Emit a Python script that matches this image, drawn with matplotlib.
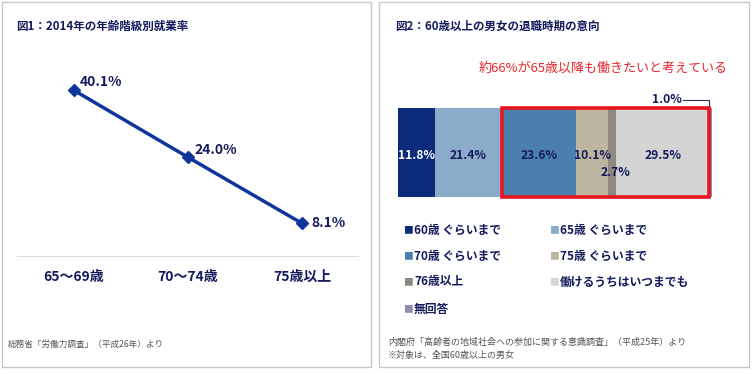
import matplotlib
matplotlib.use("Agg")
import matplotlib.pyplot as plt
from matplotlib.patches import Rectangle

plt.rcParams['font.family'] = ['Noto Sans CJK JP', 'DejaVu Sans']

# --- data: figure 1 ---
age_groups = ['65〜69歳', '70〜74歳', '75歳以上']
employment_rate = [40.1, 24.0, 8.1]

# --- data: figure 2 ---
retire_labels = ['60歳 ぐらいまで', '65歳 ぐらいまで', '70歳 ぐらいまで', '75歳 ぐらいまで',
                 '76歳以上', '働けるうちはいつまでも', '無回答']
retire_share = [11.8, 21.4, 23.6, 10.1, 2.7, 29.5, 1.0]
retire_colors = ['#0b2a7c', '#8aabc9', '#4a7fae', '#bdb5a0', '#8e8883', '#d4d4d4', '#8d8cb0']

NAVY = '#141a5c'
W, H = 753, 374


def fx(px):
    return px / W


def fy(py):
    return 1 - py / H


fig = plt.figure(figsize=(W / 100, H / 100), dpi=100)

# panel frames
for x0, x1 in [(2, 371), (379, 749)]:
    fig.add_artist(Rectangle((fx(x0), fy(367)), fx(x1) - fx(x0), fy(2) - fy(367),
                             transform=fig.transFigure, fill=False,
                             edgecolor='#c8c8c8', linewidth=1))

# ---------------- figure 1: line chart ----------------
fig.text(fx(16), fy(26), '図1：2014年の年齢階級別就業率', fontsize=8.3,
         fontweight='bold', color=NAVY, va='center')

ax1 = fig.add_axes([fx(17), fy(257), fx(359) - fx(17), fy(70) - fy(257)])
xs = range(len(age_groups))
ax1.plot(xs, employment_rate, color='#10359a', linewidth=2.5, marker='D',
         markersize=6, zorder=3)
ax1.set_xlim(-0.5, 2.5)
ax1.set_ylim(0, 45)
ax1.axhline(0, color='#d4d4d4', linewidth=1.2)
for s in ax1.spines.values():
    s.set_visible(False)
ax1.set_yticks([])
ax1.set_xticks(list(xs))
ax1.set_xticklabels(age_groups, fontsize=10, fontweight='bold', color=NAVY)
ax1.tick_params(axis='x', length=0, pad=9)
offsets = [(4.5, 6), (4.5, 5.5), (6.5, 0.5)]
for x, v, off in zip(xs, employment_rate, offsets):
    ax1.annotate(f'{v:.1f}%', (x, v), xytext=off, textcoords='offset points',
                 ha='left', va='center', fontsize=10, fontweight='bold', color=NAVY)

fig.text(fx(8), fy(344), '総務省「労働力調査」（平成26年）より', fontsize=6.2,
         color='#555555', va='center')

# ---------------- figure 2: stacked bar ----------------
fig.text(fx(395), fy(26), '図2：60歳以上の男女の退職時期の意向', fontsize=8.3,
         fontweight='bold', color=NAVY, va='center')
fig.text(fx(603), fy(68), '約66%が65歳以降も働きたいと考えている', fontsize=9.4,
         color='#e8262b', ha='center', va='center')

ax2 = fig.add_axes([fx(398), fy(197), fx(712) - fx(398), fy(108) - fy(197)])
left = 0
lefts = []
for v, c in zip(retire_share, retire_colors):
    ax2.barh(0.5, v, left=left, height=1, color=c, linewidth=0)
    lefts.append(left)
    left += v
ax2.set_xlim(0, sum(retire_share))
ax2.set_ylim(0, 1)
ax2.axis('off')

for i, (l, v) in enumerate(zip(lefts, retire_share)):
    if i == 6:
        continue
    color = 'white' if i == 0 else NAVY
    y = 0.28 if i == 4 else 0.47
    xc = l + v / 2 + (1.0 if i == 4 else 0)
    ax2.text(xc, y, f'{v:.1f}%', ha='center', va='center', fontsize=8.7,
             fontweight='bold', color=color)

# "1.0%" callout
last = lefts[6] + retire_share[6] / 2 - 0.6
ax2.plot([last, last, 91.0], [1.0, 1.09, 1.09], color='#333355', linewidth=0.8,
         clip_on=False)
ax2.text(90.5, 1.09, f'{retire_share[6]:.1f}%', ha='right', va='center',
         fontsize=8.7, fontweight='bold', color=NAVY)

# red highlight box around 70歳 .. いつまでも
box_start = lefts[2]
box_end = lefts[5] + retire_share[5]
ax2.add_patch(Rectangle((box_start, 0), box_end - box_start, 1, fill=False,
                        edgecolor='#e8141e', linewidth=2.6, clip_on=False, zorder=5))

# legend (two columns, row by row)
rows_y = [230, 256, 282, 309]
cols_x = [408, 554]
for k in range(len(retire_labels)):
    r, c = divmod(k, 2)
    fig.text(fx(cols_x[c]), fy(rows_y[r]), '■', fontsize=7, color=retire_colors[k],
             ha='center', va='center')
    fig.text(fx(cols_x[c] + 6), fy(rows_y[r]), retire_labels[k], fontsize=8.5,
             fontweight='bold', color=NAVY, ha='left', va='center')

fig.text(fx(388), fy(342), '内閣府「高齢者の地域社会への参加に関する意識調査」（平成25年）より',
         fontsize=6.5, color='#555555', va='center')
fig.text(fx(388), fy(355), '※対象は、全国60歳以上の男女', fontsize=6.5,
         color='#555555', va='center')

fig.savefig('out.png', dpi=100)
